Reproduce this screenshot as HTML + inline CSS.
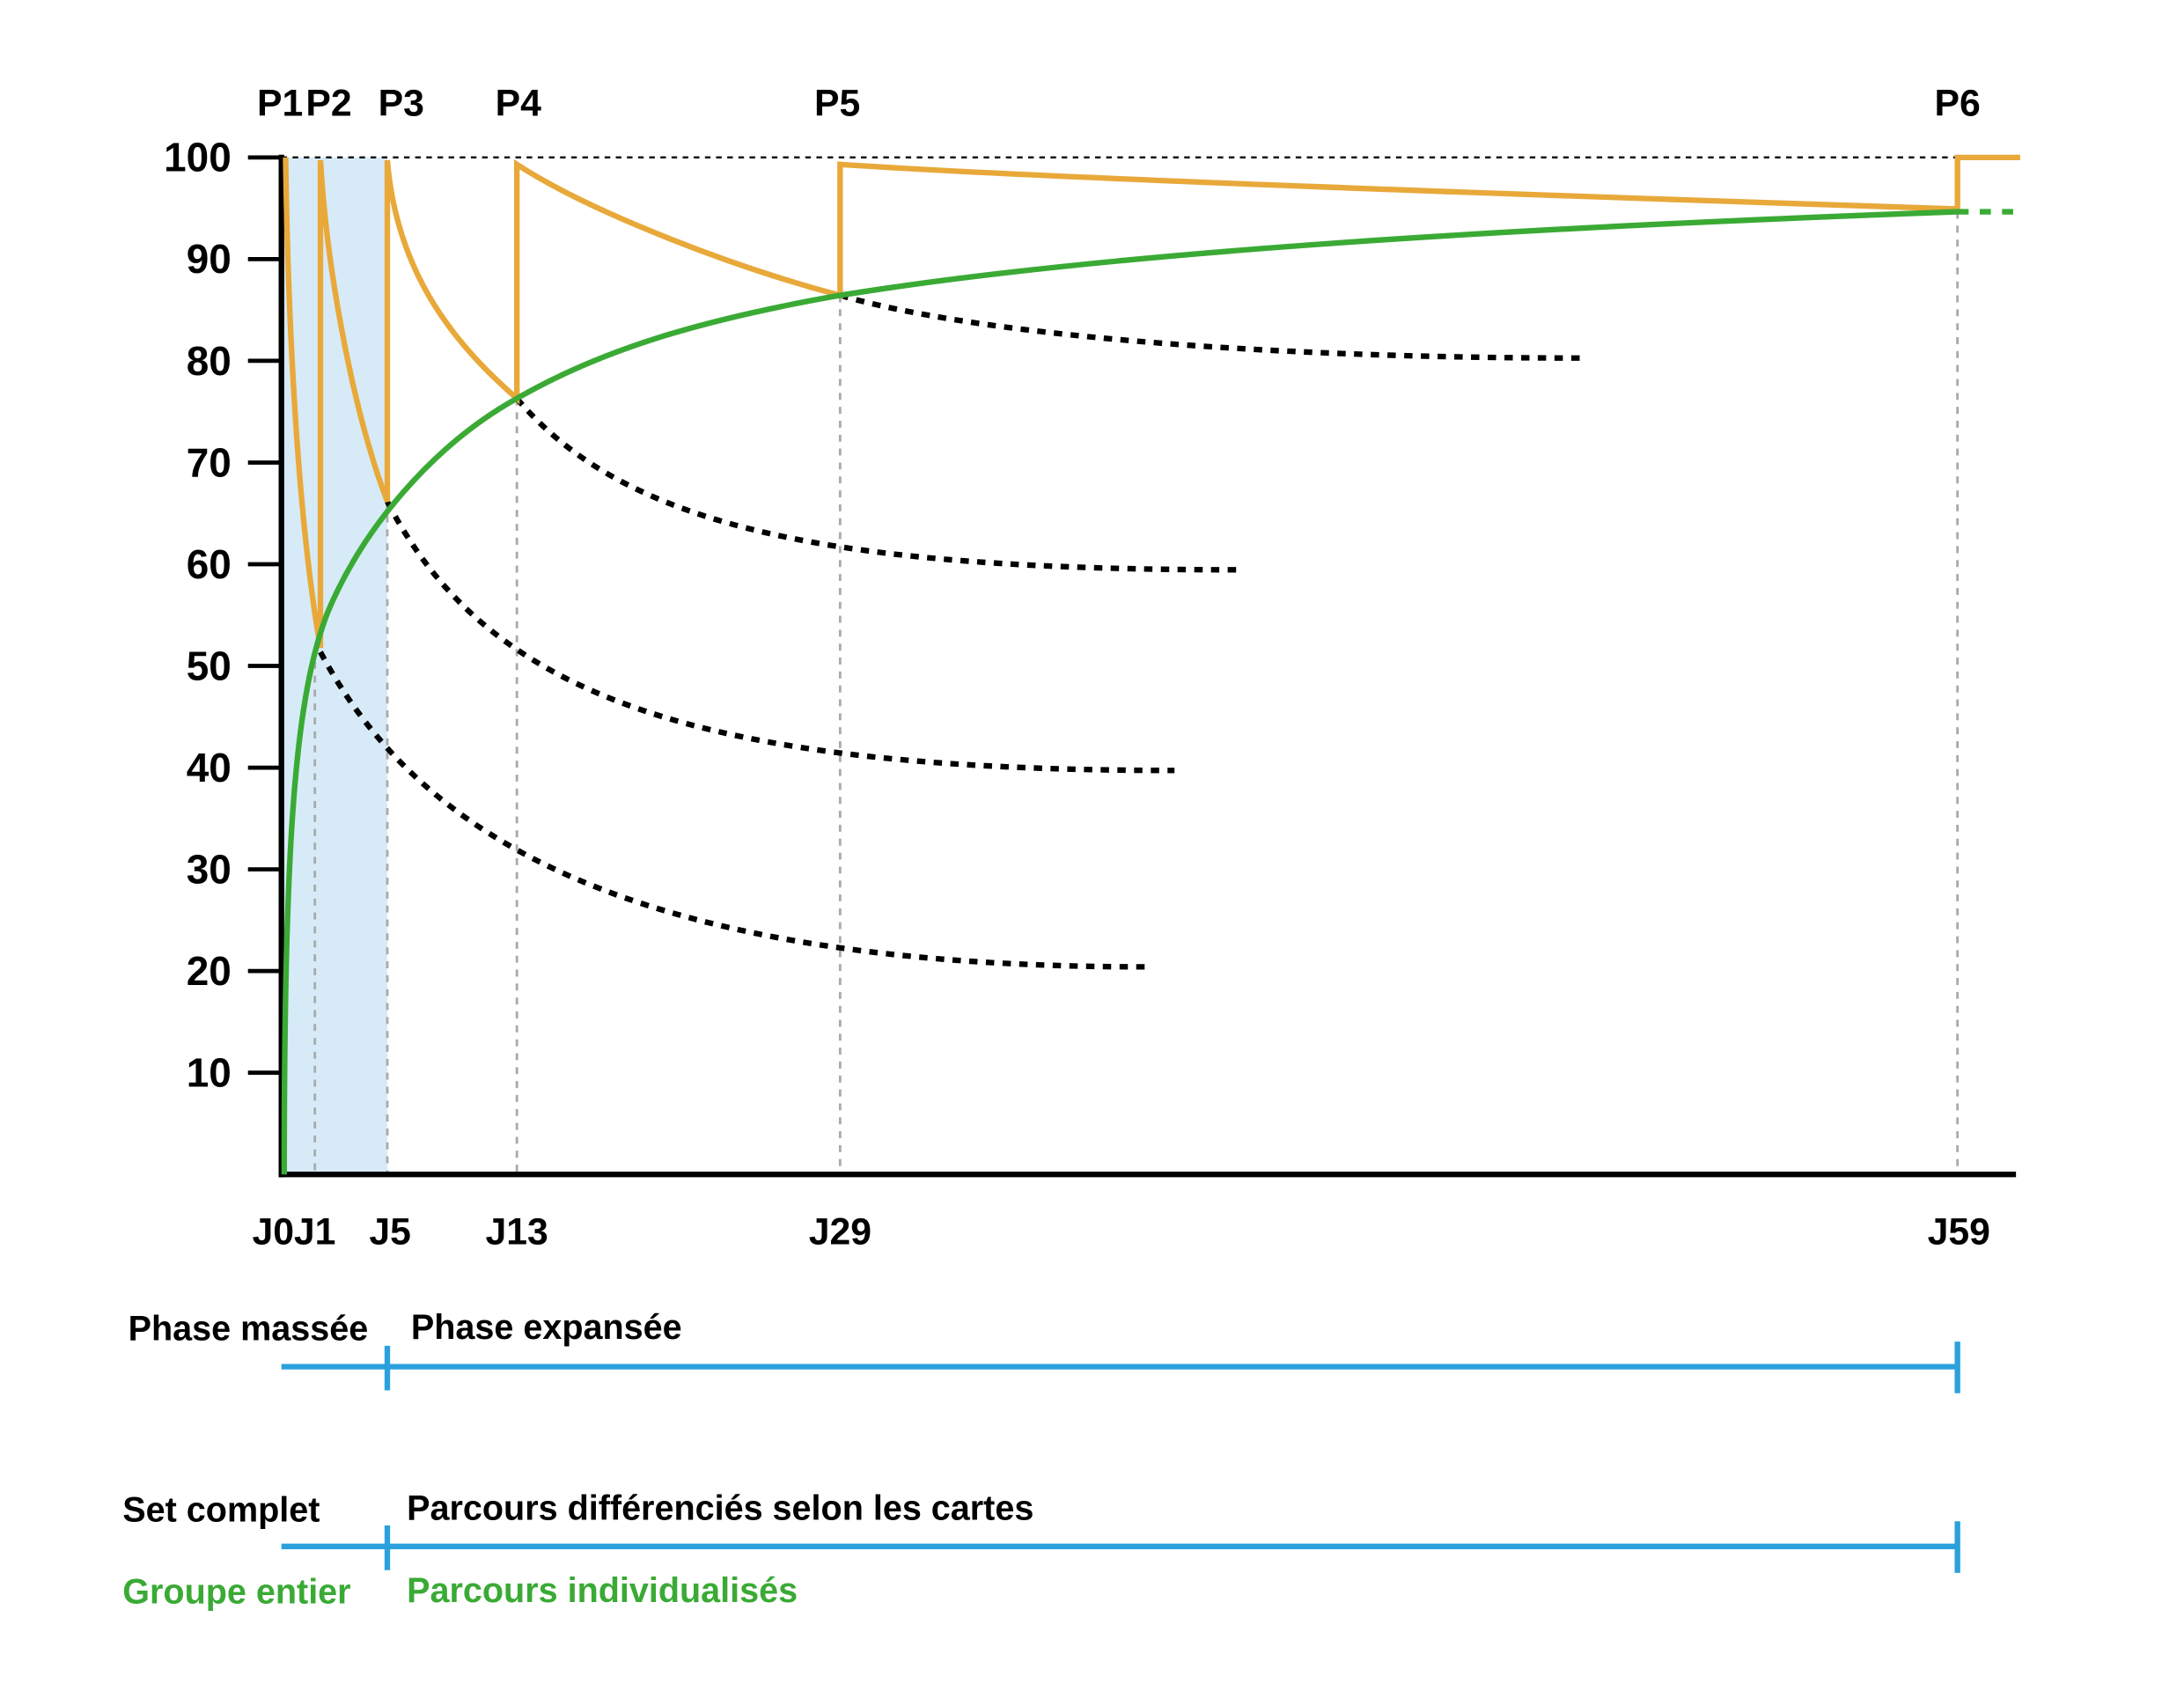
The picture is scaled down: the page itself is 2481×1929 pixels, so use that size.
<!DOCTYPE html>
<html><head><meta charset="utf-8"><style>
html,body{margin:0;padding:0;background:#fff;}
svg{display:block;}
text{font-family:"Liberation Sans",sans-serif;font-weight:bold;}
</style></head><body>
<svg width="2481" height="1929" viewBox="0 0 1567.6 1218.8" xmlns="http://www.w3.org/2000/svg">
<rect x="0" y="0" width="1567.6" height="1218.8" fill="#fff"/>
<rect x="202" y="113" width="76" height="730" fill="#d6ebf7"/>
<line x1="202" y1="113" x2="1447" y2="113" stroke="#000" stroke-width="1.5" stroke-dasharray="4 4"/>
<g stroke="#aaa" stroke-width="1.8" stroke-dasharray="5 5">
<line x1="226" y1="465" x2="226" y2="843"/>
<line x1="278" y1="360" x2="278" y2="843"/>
<line x1="371" y1="286" x2="371" y2="843"/>
<line x1="603" y1="212" x2="603" y2="843"/>
<line x1="1405" y1="152" x2="1405" y2="843"/>
</g>
<g stroke="#000" stroke-width="3">
<line x1="178" y1="113" x2="202" y2="113"/><line x1="178" y1="186" x2="202" y2="186"/>
<line x1="178" y1="259" x2="202" y2="259"/><line x1="178" y1="332" x2="202" y2="332"/>
<line x1="178" y1="405" x2="202" y2="405"/><line x1="178" y1="478" x2="202" y2="478"/>
<line x1="178" y1="551" x2="202" y2="551"/><line x1="178" y1="624" x2="202" y2="624"/>
<line x1="178" y1="697" x2="202" y2="697"/><line x1="178" y1="770" x2="202" y2="770"/>
</g>
<line x1="202" y1="111" x2="202" y2="845" stroke="#000" stroke-width="4"/>
<line x1="200" y1="843" x2="1447" y2="843" stroke="#000" stroke-width="4"/>
<g font-size="29" text-anchor="end" fill="#000">
<text x="166" y="123">100</text><text x="166" y="196">90</text><text x="166" y="269">80</text>
<text x="166" y="342">70</text><text x="166" y="415">60</text><text x="166" y="488">50</text>
<text x="166" y="561">40</text><text x="166" y="634">30</text><text x="166" y="707">20</text>
<text x="166" y="780">10</text>
</g>
<g font-size="27" text-anchor="middle" fill="#000">
<text x="196" y="893">J0</text><text x="226" y="893">J1</text><text x="280" y="893">J5</text>
<text x="371" y="893">J13</text><text x="603" y="893">J29</text><text x="1406" y="893">J59</text>
<text x="201" y="83">P1</text><text x="236" y="83">P2</text><text x="288" y="83">P3</text>
<text x="372" y="83">P4</text><text x="601" y="83">P5</text><text x="1405" y="83">P6</text>
</g>
<g fill="none" stroke="#000" stroke-width="4" stroke-dasharray="6 6">
<path d="M230,468 C300,600 450,694 822,694"/>
<path d="M278,360 C350,500 500,553 843,553"/>
<path d="M371,286 C450,380 600,409 890,409"/>
<path d="M603,212 C700,240 900,257 1137,257"/>
</g>
<g fill="none" stroke="#e8a93a" stroke-width="4">
<path d="M205,113 C207,250 215,380 230,465 L230,115 C235,200 255,300 278,360 L278,115 C285,200 330,250 371,286 L371,118 C420,150 520,190 603,212 L603,118 C750,128 1100,140 1405,150 L1405,113 L1450,113"/>
</g>
<g fill="none" stroke="#3aaa35" stroke-width="4">
<path d="M204,843 C204,600 212,500 235,440 C260,380 310,320 371,286 C430,252 500,230 603,212 C800,180 1100,163 1405,152"/>
<path d="M1405,152 L1450,152" stroke-dasharray="8 8"/>
</g>
<g stroke="#2aa1dc" stroke-width="4">
<line x1="202" y1="981" x2="1405" y2="981"/><line x1="278" y1="966" x2="278" y2="998"/><line x1="1405" y1="963" x2="1405" y2="1000"/>
<line x1="202" y1="1110" x2="1405" y2="1110"/><line x1="278" y1="1095" x2="278" y2="1127"/><line x1="1405" y1="1092" x2="1405" y2="1129"/>
</g>
<g font-size="25" fill="#000">
<text x="92" y="962">Phase massée</text><text x="295" y="961">Phase expansée</text>
<text x="88" y="1092">Set complet</text><text x="292" y="1091">Parcours différenciés selon les cartes</text>
</g>
<g font-size="25" fill="#3aaa35">
<text x="88" y="1151">Groupe entier</text><text x="292" y="1150">Parcours individualisés</text>
</g>
</svg>
</body></html>
